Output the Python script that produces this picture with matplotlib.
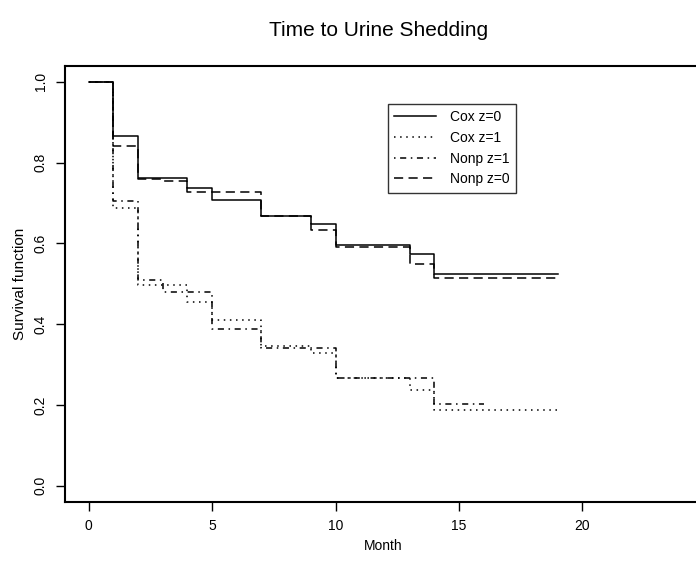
import matplotlib
matplotlib.use("Agg")
import matplotlib.pyplot as plt

# Data
cox0_t = [0, 1, 2, 4, 5, 7, 9, 10, 13, 14, 19]
cox0_s = [1.0, 0.865, 0.761, 0.738, 0.708, 0.668, 0.649, 0.597, 0.573, 0.525, 0.525]

cox1_t = [0, 1, 2, 4, 5, 7, 9, 10, 13, 14, 19]
cox1_s = [1.0, 0.687, 0.496, 0.456, 0.411, 0.345, 0.328, 0.268, 0.238, 0.188, 0.188]

nonp1_t = [0, 1, 2, 3, 5, 7, 10, 14, 16]
nonp1_s = [1.0, 0.705, 0.509, 0.481, 0.389, 0.342, 0.268, 0.202, 0.202]

nonp0_t = [0, 1, 2, 3, 4, 7, 9, 10, 13, 14, 19]
nonp0_s = [1.0, 0.842, 0.760, 0.755, 0.728, 0.669, 0.634, 0.592, 0.550, 0.515, 0.515]

labels = ["Cox z=0", "Cox z=1", "Nonp z=1", "Nonp z=0"]
x_ticks = [0, 5, 10, 15, 20]
y_ticks = [0.0, 0.2, 0.4, 0.6, 0.8, 1.0]

plt.rcParams['font.family'] = ['Liberation Sans', 'DejaVu Sans']

fig = plt.figure(figsize=(6.96, 5.66), dpi=100)
ax = fig.add_axes([65 / 696, 1 - 502 / 566, (702 - 65) / 696, (502 - 65.7) / 566])

lw = 1.1
ax.step(cox0_t, cox0_s, where='post', color='black', lw=lw, linestyle='-', label=labels[0])
ax.step(cox1_t, cox1_s, where='post', color='black', lw=lw, linestyle=(0, (1, 3)), label=labels[1])
ax.step(nonp1_t, nonp1_s, where='post', color='black', lw=lw, linestyle=(0, (1, 3, 4, 3)), label=labels[2])
ax.step(nonp0_t, nonp0_s, where='post', color='black', lw=lw, linestyle=(0, (6, 3.5)), label=labels[3])

ax.set_xlim(-0.956, 24.84)
ax.set_ylim(-0.04, 1.04)
ax.set_xticks(x_ticks)
ax.set_xticklabels([str(v) for v in x_ticks])
ax.set_yticks(y_ticks)
ax.set_yticklabels([f"{v:.1f}" for v in y_ticks], rotation=90, va='center')

for sp in ax.spines.values():
    sp.set_linewidth(1.5)
ax.tick_params(axis='both', direction='out', length=6.5, width=1, labelsize=10, pad=6)

ax.set_xlabel("Month", fontsize=10, labelpad=4)
ax.set_ylabel("Survival function", fontsize=11, labelpad=5)
fig.text(0.544, 1 - 30 / 566, "Time to Urine Shedding", ha='center', va='center', fontsize=15)

leg = ax.legend(loc='upper left', bbox_to_anchor=(388 / 696, 1 - 104 / 566),
                bbox_transform=fig.transFigure, fontsize=10, frameon=True, fancybox=False,
                edgecolor='black', handlelength=3.0, handletextpad=1.0, borderpad=0.45,
                labelspacing=0.48, borderaxespad=0)
leg.get_frame().set_linewidth(1.0)

fig.savefig("out.png", dpi=100)
